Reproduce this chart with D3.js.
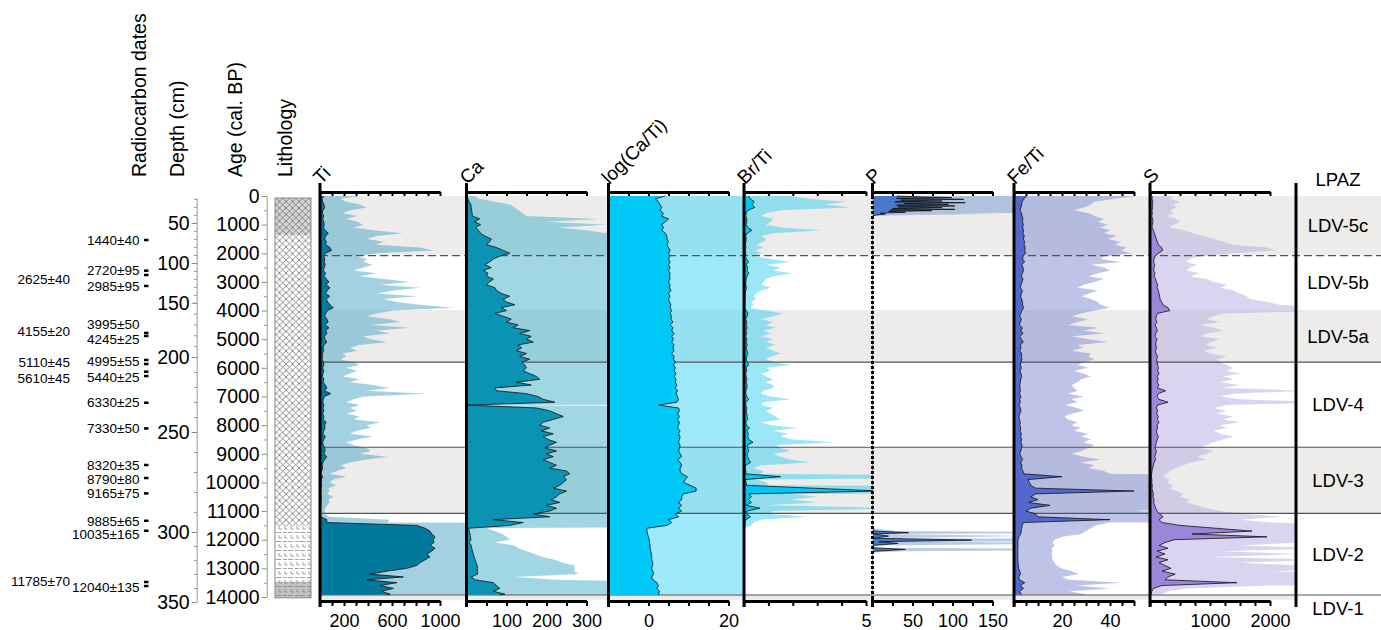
<!DOCTYPE html>
<html><head><meta charset="utf-8">
<script src="https://cdn.jsdelivr.net/npm/d3@7"></script>
<style>
body{margin:0;background:#fff;}
svg{display:block;font-family:"Liberation Sans",Arial,Helvetica,sans-serif;}
</style></head><body>
<svg id="chart" width="1381" height="630"></svg>
<script>
// ---------------- DATA ----------------
const ages = [0,100,200,300,400,500,600,700,800,900,1000,1100,1200,1300,1400,1500,1600,1700,1800,1900,2000,2100,2200,2300,2400,2500,2600,2700,2800,2900,3000,3100,3200,3300,3400,3500,3600,3700,3800,3900,4000,4100,4200,4300,4400,4500,4600,4700,4800,4900,5000,5100,5200,5300,5400,5500,5600,5700,5800,5900,6000,6100,6200,6300,6400,6500,6600,6700,6800,6900,7000,7100,7200,7300,7400,7500,7600,7700,7800,7900,8000,8100,8200,8300,8400,8500,8600,8700,8800,8900,9000,9100,9200,9300,9400,9500,9600,9700,9800,9900,10000,10100,10200,10300,10400,10500,10600,10700,10800,10900,11000,11100,11200,11300,11400,11500,11600,11700,11800,11900,12000,12100,12200,12300,12400,12500,12600,12700,12800,12900,13000,13100,13200,13300,13400,13500,13600,13700,13800,13900,13920];

const tiValues = [33,17,22,33,39,25,19,31,22,31, 36,28,44,69,47,39,53,47,83,95, 47,31,39,36,44,36,28,47,33,53, 75,50,83,61,47,81,53,64,83,111, 61,47,39,58,67,42,75,47,58,36, 42,56,33,25,31,19,22,17,28,33, 22,31,25,19,33,25,44,58,39,89, 36,28,22,33,25,31,22,33,28,50, 39,42,31,25,44,31,22,28,39,42, 33,56,39,25,17,22,14,8,22,11, 8,14,7,8,6,11,7,8,6,4, 4,4,8,58,56,806,876,917,931,959, 945,950,917,959,931,890,917,876,834,806, 723,556,417,695,389,640,500,612,515,584, 556];

const caValues = [2,3,7,11,12,13,14,15,33,20, 35,23,30,35,46,62,58,50,75,92, 108,83,67,58,46,62,42,54,50,67, 58,50,71,75,87,108,92,100,121,87, 100,71,92,112,100,129,117,158,133,162, 150,167,129,138,125,150,133,158,138,146, 150,142,158,175,183,125,162,71,75,150, 179,192,221,1,175,208,225,242,217,192, 183,208,187,217,192,204,225,208,196,225, 200,217,192,208,225,208,250,258,242,250, 242,233,217,250,233,225,212,233,200,225, 208,167,208,67,142,108,5,7,9,10, 11,7,12,13,15,17,19,22,24,27, 27,27,28,12,22,67,75,83,67,96, 83];

const logCaTiValues = [4.2,1.7,2.5,2.9,3.3,2.9,3.75,3.3,5.0,4.2, 3.3,3.75,3.3,4.2,4.6,4.6,5.0,4.6,5.0,5.4, 5.0,5.4,5.0,5.4,5.0,5.4,5.0,5.4,5.25,5.4, 5.0,5.4,5.25,5.6,5.0,5.4,5.0,5.25,5.6,5.4, 5.8,5.4,5.8,5.6,6.1,5.4,6.1,5.8,6.4,5.8, 6.25,5.8,6.4,6.1,6.4,5.8,6.4,6.25,6.7,6.25, 6.7,6.4,6.9,6.4,6.9,6.7,7.1,6.7,7.25,6.9, 7.25,7.5,7.1,2.5,7.5,7.75,7.25,7.75,7.25,7.75, 7.5,7.25,7.9,7.5,7.9,7.75,7.5,7.9,7.75,7.5, 7.9,8.3,7.25,7.9,8.3,7.9,7.9,8.3,9.75,9.2, 8.75,10.4,11.9,11.9,8.75,8.3,8.3,7.5,8.3,7.5, 8.3,6.7,7.5,5.0,5.8,4.6,-0.4,-0.4,-0.25,0, 0.2,0.25,0.4,0.4,0.6,0.7,0.8,0.8,1.1,1.0, 0.8,1.1,1.25,0.8,1.1,2.1,2.5,2.1,2.75,2.5, 2.75];

const brTiValues = [0.19,0.26,0.42,0.33,0.44,0.15,0.09,0.07,0.12,0.11, 0.09,0.16,0.32,0.12,0.07,0.09,0.08,0.05,0.08,0.045, 0.07,0.04,0.11,0.19,0.09,0.15,0.12,0.2,0.12,0.09, 0.08,0.07,0.11,0.07,0.05,0.04,0.05,0.03,0.04,0.025, 0.09,0.16,0.12,0.07,0.12,0.09,0.13,0.08,0.11,0.07, 0.12,0.09,0.13,0.09,0.12,0.15,0.11,0.09,0.13,0.19, 0.09,0.11,0.07,0.09,0.12,0.09,0.12,0.12,0.08,0.07, 0.11,0.19,0.08,0.07,0.12,0.09,0.11,0.13,0.15,0.07, 0.11,0.22,0.12,0.18,0.15,0.2,0.37,0.13,0.15,0.19, 0.12,0.15,0.19,0.27,0.07,0.04,0.08,0.07,1.5,0.05, 0.09,0.1,2.8,5.6,0.2,0.3,0.19,0.3,0.09,0.66, 0.12,0.11,0.26,0.07,0.04,0.03,0,0,0,0, 0,0,0,0,0,0,0,0,0,0, 0,0,0,0,0,0,0,0,0,0, 0];

const pAges = [0,30,58,80,116,145,175,205,233,262,291,320,349,378,407,436,466,490,512,540,570,600,629,660,700,11600,11700,11756,11800,11873,11950,12013,12070,12129,12200,12280,12339,12400,12450,13920];
const pValues = [30,60,99,30,114,35,87,28,116,40,95,30,103,32,87,25,103,22,74,20,41,10,16,5,0,0,3,45,1,20,1,124,8,32,0,0,41,4,0,0];

const feTiValues = [5.1,4.2,3.35,3.2,2.9,2.5,3.1,3.35,3.75,3.5, 3.9,3.6,4.0,3.75,4.3,3.9,4.45,4.2,4.7,4.45, 4.9,3.75,3.6,4.45,3.2,3.75,4.0,3.5,3.1,3.75, 3.35,2.9,2.65,3.5,3.1,2.8,3.2,3.5,3.6,4.0, 3.35,2.8,2.4,3.1,2.65,2.25,3.5,2.9,3.75,2.4, 3.1,3.9,2.65,2.9,2.4,3.2,3.1,3.35,2.9,2.65, 3.1,2.5,2.9,3.2,2.8,2.65,2.4,2.5,2.65,2.25, 2.9,2.4,2.65,2.1,2.65,2.9,2.4,2.1,2.25,2.65, 2.4,2.8,2.5,3.1,2.8,3.2,2.9,3.35,3.1,2.8, 2.4,2.9,3.6,2.8,3.35,3.1,3.75,4.0,20,5.8, 6.5,7,9,50,9,7,10,6,15,7, 5,9,10,40,4.0,3.4,3.2,3.0,2.8,2.0, 1.7,1.6,1.7,1.56,1.6,1.56,1.6,1.6,1.7,1.77, 1.97,2.4,2.7,2.0,2.3,4.5,2.6,4.0,2.3,3.0, 3.0];

const sValues = [39,33,50,39,44,33,39,28,44,50, 39,33,56,72,89,106,122,139,195,210, 139,83,67,61,78,67,61,83,67,94, 106,128,117,139,150,161,167,195,217,300, 330,122,106,94,117,83,106,122,94,83, 117,100,94,111,89,100,128,111,117,128, 139,128,150,122,139,117,150,122,260,139, 117,150,300,128,106,128,111,139,122,150, 117,128,106,117,139,122,106,94,83,106, 94,78,94,67,56,44,33,28,22,33, 28,39,33,44,56,50,67,61,78,94, 117,160,220,150,200,500,1100,1700,700,1950, 400,250,150,300,120,250,100,300,150,250, 350,200,420,300,250,1450,200,60,30,20, 20];

// axis ticks & labels
const tiTicks = [0,100,200,300,400,500,600,700,800,900,1000], tiLabels = [200,600,1000];
const caTicks = [0,50,100,150,200,250,300], caLabels = [100,200,300];
const logTicks = [-10,-5,0,5,10,15,20], logLabels = [0,20];
const brTicks = [0,1,2,3,4,5], brLabels = [5];
const pTicks = [0,25,50,75,100,125,150], pLabels = [50,100,150];
const feTicks = [0,5,10,15,20,25,30,35,40,45,50], feLabels = [20,40];
const sTicks = [0,250,500,750,1000,1250,1500,1750,2000], sLabels = [1000,2000];

// age-depth model (depth cm -> cal. BP)
const adDepths = [19,50,100,150,200,250,300,350];
const adAges   = [70,940,2340,3730,5620,8240,11730,14175];
const depthLabels = [50,100,150,200,250,300,350];
const depthMinor = [20,30,40,50,60,70,80,90,100,110,120,130,140,150,160,170,180,190,200,210,220,230,240,250,260,270,280,290,300,310,320,330,340,350];
const ageLabels = [0,1000,2000,3000,4000,5000,6000,7000,8000,9000,10000,11000,12000,13000,14000];
const ageMinor = [500,1500,2500,3500,4500,5500,6500,7500,8500,9500,10500,11500,12500,13500];

// radiocarbon dates
const datesRight = ['1440±40','2720±95','2985±95','3995±50','4245±25','4995±55','5440±25','6330±25','7330±50','8320±35','8790±80','9165±75','9885±65','10035±165','12040±135'];
const datesRightDepth = [71.3,109.6,128.8,170.0,183.6,202.7,213.3,230.5,247.6,266.5,273.7,280.7,294.4,301.4,339.5];
const datesLeft = ['2625±40','4155±20','5110±45','5610±45','11785±70'];
const datesLeftDepth = [120.4,176.6,203.3,214.3,335.5];
const sampleDepths = [71.3,109.6,115,128.8,177.8,180.6,202,204.7,209.8,212.7,230.5,247.6,266.5,273,280.7,294.4,299.4,335.7,338.6];

// lithology (depth cm)
const lithTop = [19,65,297,335.5];
const lithBottom = [65,297,335.5,347];
const lithType = ['peatGray','peat','marl','marlGray'];

// zones
const zoneNames = ['LDV-5c','LDV-5b','LDV-5a','LDV-4','LDV-3','LDV-2','LDV-1'];
const zoneTop = [0,2080,3980,5800,8770,11080,13930];
const zoneBottom = [2080,3980,5800,8770,11080,13930,14100];
const zoneShaded = [true,false,true,false,true,false,true];
const solidBounds = [5800,8770,11080,13930];
const dashedBounds = [2080];

// ---------------- DRAW ----------------
const svg = d3.select('#chart');
const y = d3.scaleLinear().domain([0,14000]).range([196,597]);
const yDepth = d3.scaleLinear().domain(adDepths).range(adAges.map(a=>y(a)));
const defs = svg.append('defs');

// patterns
const pxh = defs.append('pattern').attr('id','xh').attr('width',6.5).attr('height',6.5).attr('patternUnits','userSpaceOnUse');
pxh.append('path').attr('d','M0,0L6.5,6.5M6.5,0L0,6.5').attr('stroke','#5e5e5e').attr('stroke-width',0.7);
const pl = defs.append('pattern').attr('id','lime').attr('width',12).attr('height',9).attr('patternUnits','userSpaceOnUse');
pl.append('path').attr('d','M0,1.5H5M7,1.5H11M3,4V7H6M9,4V7H11.5').attr('stroke','#7a7a7a').attr('stroke-width',0.7).attr('fill','none');

const PX0 = 320, LPAZX = 1296, RIGHT = 1381;

// shaded zone bands
zoneNames.forEach((n,i)=>{
  if(!zoneShaded[i]) return;
  svg.append('rect').attr('x',PX0).attr('y',y(zoneTop[i]))
    .attr('width',(i===zoneNames.length-1?LPAZX:RIGHT)-PX0)
    .attr('height',y(zoneBottom[i])-y(zoneTop[i])).attr('fill','#edecea');
});

const panels = [
  {name:'Ti', ages:ages, values:tiValues, domain:[0,1000], ticks:tiTicks, labels:tiLabels, left:320, width:120, dark:'#03789d', light:'#4aa3c3'},
  {name:'Ca', ages:ages, values:caValues, domain:[0,300], ticks:caTicks, labels:caLabels, left:466.5, width:120, dark:'#0b93b4', light:'#42afc7'},
  {name:'log(Ca/Ti)', ages:ages, values:logCaTiValues, domain:[-10,20], ticks:logTicks, labels:logLabels, left:608.5, width:120, dark:'#00c8f6', light:'#3dd3f8'},
  {name:'Br/Ti', ages:ages, values:brTiValues, domain:[0,5], ticks:brTicks, labels:brLabels, left:744, width:122, dark:'#00c6f2', light:'#38cdf0'},
  {name:'P', ages:pAges, values:pValues, domain:[0,150], ticks:pTicks, labels:pLabels, left:872.5, width:120, dark:'#4a79c9', light:'#7598cd', dotted:true},
  {name:'Fe/Ti', ages:ages, values:feTiValues, domain:[0,50], ticks:feTicks, labels:feLabels, left:1014, width:120, dark:'#5468cb', light:'#7d89d1'},
  {name:'S', ages:ages, values:sValues, domain:[0,2000], ticks:sTicks, labels:sLabels, left:1150, width:120, dark:'#9b87d9', light:'#b8aae2'}
];
const EXAG = 10;
panels.forEach((p,i)=>{
  p.right = i<panels.length-1 ? panels[i+1].left : LPAZX;
  p.x = d3.scaleLinear().domain(p.domain).range([p.left, p.left+p.width]);
  p.xe = d3.scaleLinear().domain(p.domain).range([p.left, p.left+p.width*EXAG]);
  p.data = p.ages.map((a,j)=>({a:a, v:p.values[j]}));
  defs.append('clipPath').attr('id','clip'+i).append('rect')
    .attr('x',p.left).attr('y',y(0)-1).attr('width',p.right-p.left).attr('height',y(14000)-y(0)+2);
});

// exaggerated (light) fills
panels.forEach((p,i)=>{
  svg.append('path').datum(p.data).attr('clip-path',`url(#clip${i})`)
    .attr('fill',p.light).attr('fill-opacity',0.5)
    .attr('d', d3.area().y(d=>y(d.a)).x0(p.x(p.domain[0])).x1(d=>p.xe(d.v)));
});

// zone boundary lines
solidBounds.forEach(b=>{
  svg.append('line').attr('x1',PX0).attr('x2',RIGHT).attr('y1',y(b)).attr('y2',y(b))
    .attr('stroke','#555').attr('stroke-width',1.1);
});
dashedBounds.forEach(b=>{
  svg.append('line').attr('x1',PX0).attr('x2',RIGHT).attr('y1',y(b)).attr('y2',y(b))
    .attr('stroke','#555').attr('stroke-width',1.1).attr('stroke-dasharray','8,4');
});

// dark fills + outlines
panels.forEach((p,i)=>{
  svg.append('path').datum(p.data).attr('clip-path',`url(#clip${i})`)
    .attr('fill',p.dark)
    .attr('d', d3.area().y(d=>y(d.a)).x0(p.x(p.domain[0])).x1(d=>p.x(d.v)));
  svg.append('path').datum(p.data).attr('clip-path',`url(#clip${i})`)
    .attr('fill','none').attr('stroke','#111').attr('stroke-width',0.8)
    .attr('d', d3.line().y(d=>y(d.a)).x(d=>p.x(d.v)));
});

// panel axes
const TOPY = 192, BOTY = 601;
panels.forEach(p=>{
  const gt = svg.append('g').attr('transform',`translate(0,${TOPY})`)
    .call(d3.axisBottom(p.x).tickValues(p.ticks).tickSize(4).tickSizeOuter(0).tickFormat(''));
  gt.select('.domain').attr('stroke','#000').attr('stroke-width',3);
  gt.selectAll('.tick line').attr('stroke','#000').attr('stroke-width',2);
  const gb = svg.append('g').attr('transform',`translate(0,${BOTY})`)
    .call(d3.axisBottom(p.x).tickValues(p.ticks).tickSize(5).tickSizeOuter(0).tickPadding(8)
      .tickFormat(d=>p.labels.includes(d)?d:''));
  gb.select('.domain').attr('stroke','#000').attr('stroke-width',3);
  gb.selectAll('.tick line').attr('stroke','#000').attr('stroke-width',2);
  gb.selectAll('.tick text').attr('font-size','18px').attr('fill','#000')
    .attr('font-family','"Liberation Sans",Arial,sans-serif');
  // left vertical axis line
  if(p.dotted){
    svg.append('line').attr('x1',p.left).attr('x2',p.left).attr('y1',183).attr('y2',196).attr('stroke','#000').attr('stroke-width',3);
    svg.append('line').attr('x1',p.left).attr('x2',p.left).attr('y1',196).attr('y2',598).attr('stroke','#000').attr('stroke-width',3).attr('stroke-dasharray','3,2');
    svg.append('line').attr('x1',p.left).attr('x2',p.left).attr('y1',598).attr('y2',607).attr('stroke','#000').attr('stroke-width',3);
  } else {
    svg.append('line').attr('x1',p.left).attr('x2',p.left).attr('y1',183).attr('y2',607).attr('stroke','#000').attr('stroke-width',3);
  }
  svg.append('text').attr('transform',`translate(${p.left+1},185) rotate(-45)`)
    .attr('font-size','19px').attr('fill','#000').text(p.name);
});

// LPAZ column
svg.append('line').attr('x1',LPAZX).attr('x2',LPAZX).attr('y1',183).attr('y2',607).attr('stroke','#000').attr('stroke-width',3);
svg.append('text').attr('x',1338).attr('y',180).attr('dy','0.35em').attr('text-anchor','middle').attr('font-size','18.5px').text('LPAZ');
zoneNames.forEach((n,i)=>{
  const yy = i===zoneNames.length-1 ? y(zoneBottom[i])+9 : (y(zoneTop[i])+y(zoneBottom[i]))/2;
  svg.append('text').attr('x',1338).attr('y',yy).attr('dy','0.35em').attr('text-anchor','middle')
    .attr('font-size','18.5px').text(n);
});

// depth axis
const DX = 196.7, AX = 266.7;
const gd = svg.append('g').attr('transform',`translate(${DX},0)`)
  .call(d3.axisLeft(yDepth).tickValues(depthLabels).tickSize(5).tickSizeOuter(0).tickPadding(2).tickFormat(d3.format('d')));
gd.select('.domain').attr('stroke','#999');
gd.selectAll('.tick line').attr('stroke','#888');
gd.selectAll('.tick text').attr('font-size','19.5px').attr('fill','#000').attr('font-family','"Liberation Sans",Arial,sans-serif');
const gdm = svg.append('g').attr('transform',`translate(${DX},0)`)
  .call(d3.axisLeft(yDepth).tickValues(depthMinor).tickSize(2.5).tickFormat(''));
gdm.select('.domain').remove();
gdm.selectAll('.tick line').attr('stroke','#888');

// age axis
const ga = svg.append('g').attr('transform',`translate(${AX},0)`)
  .call(d3.axisLeft(y).tickValues(ageLabels).tickSize(5).tickSizeOuter(0).tickPadding(2).tickFormat(d3.format('d')));
ga.select('.domain').attr('stroke','#999');
ga.selectAll('.tick line').attr('stroke','#888');
ga.selectAll('.tick text').attr('font-size','19.5px').attr('fill','#000').attr('font-family','"Liberation Sans",Arial,sans-serif');
const gam = svg.append('g').attr('transform',`translate(${AX},0)`)
  .call(d3.axisLeft(y).tickValues(ageMinor).tickSize(2.5).tickFormat(''));
gam.select('.domain').remove();
gam.selectAll('.tick line').attr('stroke','#888');

// lithology
const LX = 275, LW = 36;
lithType.forEach((t,i)=>{
  const y0 = yDepth(lithTop[i]), y1 = yDepth(lithBottom[i]);
  const base = (t==='peatGray') ? '#d6d6d6' : (t==='marlGray' ? '#c2c2c2' : '#ffffff');
  svg.append('rect').attr('x',LX).attr('y',y0).attr('width',LW).attr('height',y1-y0).attr('fill',base);
  svg.append('rect').attr('x',LX).attr('y',y0).attr('width',LW).attr('height',y1-y0)
    .attr('fill', (t==='peat'||t==='peatGray') ? 'url(#xh)' : 'url(#lime)');
});
svg.append('rect').attr('x',LX).attr('y',yDepth(lithTop[0])).attr('width',LW)
  .attr('height',yDepth(lithBottom[lithBottom.length-1])-yDepth(lithTop[0]))
  .attr('fill','none').attr('stroke','#888').attr('stroke-width',1);

// radiocarbon dates
datesRight.forEach((t,i)=>{
  svg.append('text').attr('x',139.5).attr('y',yDepth(datesRightDepth[i])).attr('dy','0.35em')
    .attr('text-anchor','end').attr('font-size','13.5px').text(t);
});
datesLeft.forEach((t,i)=>{
  svg.append('text').attr('x',70).attr('y',yDepth(datesLeftDepth[i])).attr('dy','0.35em')
    .attr('text-anchor','end').attr('font-size','13.5px').text(t);
});
sampleDepths.forEach(d=>{
  svg.append('rect').attr('x',144).attr('y',yDepth(d)-1.25).attr('width',4.5).attr('height',2.5).attr('fill','#000');
});

// column headers
[['Radiocarbon dates',146],['Depth (cm)',184],['Age (cal. BP)',242],['Lithology',291.5]].forEach(h=>{
  svg.append('text').attr('transform',`translate(${h[1]},177) rotate(-90)`)
    .attr('font-size','19.5px').attr('fill','#000').text(h[0]);
});
</script>
</body></html>
